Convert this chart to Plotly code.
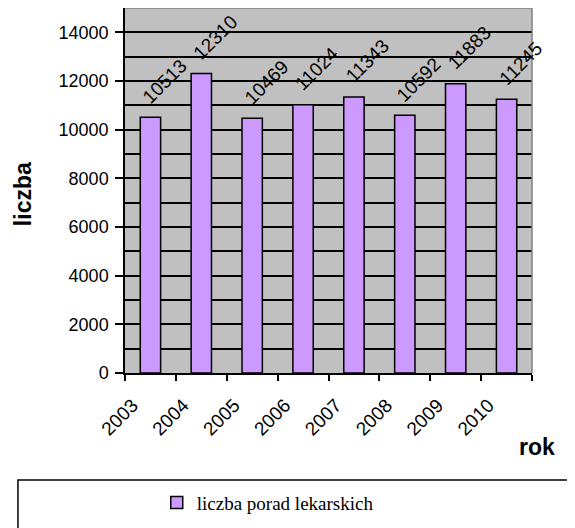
import plotly.graph_objects as go

years = ["2003", "2004", "2005", "2006", "2007", "2008", "2009", "2010"]
values = [10513, 12310, 10469, 11024, 11343, 10592, 11883, 11245]
series_name = "liczba porad lekarskich"

fig = go.Figure()
fig.add_trace(go.Bar(
    x=years, y=values, name=series_name,
    marker=dict(color="#CC99FF", line=dict(color="black", width=1.5)),
    width=0.4,
))

# rotated value labels above the bars (category index positions)
for i, v in enumerate(values):
    fig.add_annotation(x=i, y=v, text=str(v), showarrow=False, textangle=-45,
                       xanchor="center", yanchor="middle", xshift=14, yshift=36,
                       font=dict(family="Liberation Sans", size=19, color="black"))

fig.update_layout(
    width=567, height=520,
    margin=dict(l=117, r=43, t=0, b=155),
    paper_bgcolor="white", plot_bgcolor="#C0C0C0",
    font=dict(family="Liberation Sans", size=18, color="black"),
    showlegend=True,
    legend=dict(orientation="h", x=0.078, y=-0.355, xanchor="left", yanchor="middle",
                font=dict(family="Liberation Serif", size=19, color="black"),
                bgcolor="rgba(0,0,0,0)", itemwidth=30),
    xaxis=dict(type="category", categoryorder="array", categoryarray=years,
               range=[-0.5, len(years) - 0.5],
               tickson="boundaries", ticks="outside", ticklen=6,
               tickwidth=1.5, tickcolor="black", showline=True, linecolor="black", linewidth=1.5,
               showgrid=False, tickangle=-45, ticklabelstandoff=12, ticklabelshift=-18,
               tickfont=dict(size=19)),
    yaxis=dict(range=[0, 15000], dtick=2000, tick0=0, tickformat="d", ticks="outside", ticklen=8,
               tickwidth=1.5, tickcolor="black", showline=True, linecolor="black", linewidth=1.5,
               showgrid=True, gridcolor="black", gridwidth=1.5, zeroline=False,
               ticklabelstandoff=3,
               minor=dict(dtick=1000, showgrid=True, gridcolor="black", gridwidth=1.5, ticks="")),
    bargap=0.6,
)

# gray top and right border of plot area
fig.add_shape(type="line", xref="paper", yref="paper", x0=0, x1=1, y0=1, y1=1,
              line=dict(color="#808080", width=1.5))
fig.add_shape(type="line", xref="paper", yref="paper", x0=1, x1=1, y0=0, y1=1,
              line=dict(color="#808080", width=1.5))
# legend box extending past the right edge
fig.add_shape(type="rect", xref="paper", yref="paper", x0=-0.263, x1=1.2, y0=-0.293, y1=-0.5,
              line=dict(color="black", width=1.5), fillcolor="rgba(0,0,0,0)")

fig.add_annotation(text="<b>liczba</b>", xref="paper", yref="paper", x=-0.2875, y=0.49,
                   showarrow=False, font=dict(size=23), textangle=-90,
                   xanchor="left", yanchor="middle")
fig.add_annotation(text="<b>rok</b>", xref="paper", yref="paper", x=1.012, y=-0.203,
                   showarrow=False, font=dict(size=23), xanchor="center", yanchor="middle")

fig.write_html("out.html")
